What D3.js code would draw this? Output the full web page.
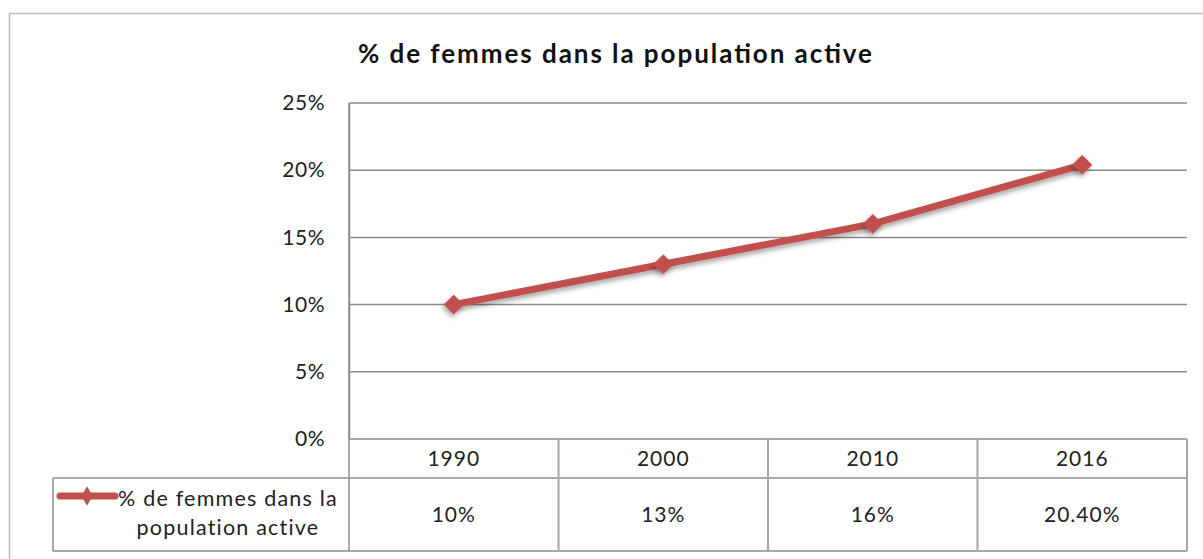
<!DOCTYPE html>
<html><head><meta charset="utf-8">
<script src="https://cdn.jsdelivr.net/npm/d3@7"></script>
<style>body{margin:0;background:#fff}svg{display:block}text{font-family:Lato,"Open Sans",sans-serif;fill:#222}</style>
</head><body><svg id="c" width="1203" height="559"></svg>
<script>
const title = "% de femmes dans la population active";
const categories = ["1990","2000","2010","2016"];
const values = [0.10, 0.13, 0.16, 0.204];
const valueLabels = ["10%","13%","16%","20.40%"];
const yTicks = [0,0.05,0.10,0.15,0.20,0.25];
const seriesName = ["% de femmes dans la","population active"];

const svg = d3.select("#c");
const L=349,R=1187,T=103,B=439;
const hdrB=478, rowB=551, legL=53;
const gridC="#8c8c8c", red="#C0504D";

const defs=svg.append("defs");
const f=defs.append("filter").attr("id","sh").attr("x","-50%").attr("y","-50%").attr("width","200%").attr("height","200%");
f.append("feDropShadow").attr("dx",1).attr("dy",3).attr("stdDeviation",2.5).attr("flood-color","#000").attr("flood-opacity",0.35);

// outer border
svg.append("rect").attr("x",9.5).attr("y",13.5).attr("width",1300).attr("height",600).attr("fill","none").attr("stroke","#bdbdbd").attr("stroke-width",1.5);

svg.append("text").attr("x",615).attr("y",63).attr("text-anchor","middle").attr("textLength",514).attr("lengthAdjust","spacing")
 .style("font-weight","bold").style("font-size","26px").style("fill","#111").text(title);

const x=d3.scaleBand().domain(categories).range([L,R]);
const y=d3.scaleLinear().domain([0,0.25]).range([B,T]);

// grid
svg.append("g").selectAll("line").data(yTicks).join("line")
 .attr("x1",L).attr("x2",R).attr("y1",d=>y(d)).attr("y2",d=>y(d)).attr("stroke",gridC).attr("stroke-width",1.5);
// y axis
const ya=svg.append("g").attr("transform",`translate(${L},0)`).call(d3.axisLeft(y).tickValues(yTicks).tickFormat(d3.format(".0%")).tickSize(0).tickPadding(24));
ya.select(".domain").attr("stroke",gridC).attr("stroke-width",1.5);
ya.selectAll("text").style("font-family","Lato").style("font-size","21px").style("letter-spacing","0.5px").attr("fill","#222");
// line from y axis through table
svg.append("line").attr("x1",L).attr("x2",L).attr("y1",T).attr("y2",rowB).attr("stroke",gridC).attr("stroke-width",1.5);

// table
const tg=svg.append("g");
tg.append("line").attr("x1",L).attr("x2",R).attr("y1",hdrB).attr("y2",hdrB).attr("stroke",gridC).attr("stroke-width",1.5);
tg.append("line").attr("x1",legL).attr("x2",L).attr("y1",hdrB).attr("y2",hdrB).attr("stroke",gridC).attr("stroke-width",1.5);
tg.append("line").attr("x1",legL).attr("x2",R).attr("y1",rowB).attr("y2",rowB).attr("stroke",gridC).attr("stroke-width",1.5);
tg.append("line").attr("x1",legL).attr("x2",legL).attr("y1",hdrB).attr("y2",rowB).attr("stroke",gridC).attr("stroke-width",1.5);
tg.selectAll("line.sep").data(categories).join("line").attr("class","sep")
 .attr("x1",d=>x(d)+x.bandwidth()).attr("x2",d=>x(d)+x.bandwidth()).attr("y1",B).attr("y2",rowB).attr("stroke","#a6a6a6").attr("stroke-width",2);
tg.selectAll("text.h").data(categories).join("text").attr("class","h")
 .attr("x",d=>x(d)+x.bandwidth()/2).attr("y",(B+hdrB)/2+7).attr("text-anchor","middle").style("font-size","21px").style("letter-spacing","1px").text(d=>d);
tg.selectAll("text.v").data(valueLabels).join("text").attr("class","v")
 .attr("x",(d,i)=>x(categories[i])+x.bandwidth()/2).attr("y",(hdrB+rowB)/2+7).attr("text-anchor","middle").style("font-size","21px").style("letter-spacing","1px").text(d=>d);
tg.selectAll("text.s").data(seriesName).join("text").attr("class","s")
 .attr("x",228).attr("y",(d,i)=>506+i*29).attr("text-anchor","middle").style("font-size","21.5px").style("letter-spacing","1.2px").text(d=>d);
// legend symbol
tg.append("line").attr("x1",60).attr("x2",115).attr("y1",496).attr("y2",496).attr("stroke",red).attr("stroke-width",7).attr("stroke-linecap","round");
tg.append("path").attr("d",d3.symbol(d3.symbolDiamond,110)()).attr("transform","translate(87,496)").attr("fill",red);

// series
const pts=categories.map((c,i)=>[x(c)+x.bandwidth()/2,y(values[i])]);
svg.append("path").attr("d",d3.line()(pts)).attr("fill","none").attr("stroke",red).attr("stroke-width",7).attr("filter","url(#sh)");
svg.append("g").selectAll("path").data(pts).join("path")
 .attr("d",d3.symbol(d3.symbolSquare,200)()).attr("transform",d=>`translate(${d[0]},${d[1]}) rotate(45)`).attr("fill",red).attr("filter","url(#sh)");
</script></body></html>
